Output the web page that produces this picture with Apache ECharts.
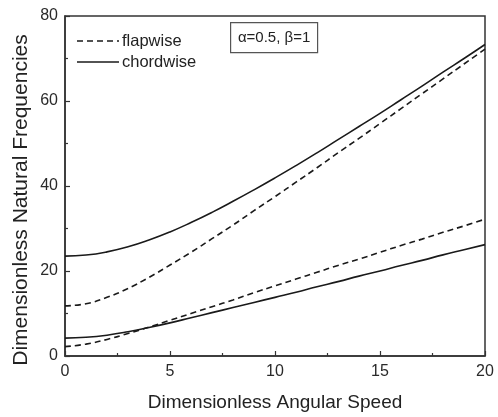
<!DOCTYPE html>
<html>
<head>
<meta charset="utf-8">
<script src="https://cdn.jsdelivr.net/npm/echarts@6/dist/echarts.min.js"></script>
<style>
html,body{margin:0;padding:0;background:#fff;}
#chart{width:498px;height:417px;}
</style>
</head>
<body>
<div id="chart"></div>
<script>
const speed = [0,1,2,3,4,5,6,7,8,9,10,11,12,13,14,15,16,17,18,19,20];
const flapwise1 = [2.2,2.8,3.9,5.3,6.8,8.4,10.0,11.6,13.2,14.9,16.5,18.1,19.7,21.3,22.8,24.4,26.0,27.5,29.1,30.6,32.2];
const flapwise2 = [11.8,12.3,13.8,15.9,18.5,21.4,24.4,27.6,30.8,34.2,37.5,40.9,44.3,47.8,51.2,54.7,58.2,61.7,65.2,68.7,72.2];
const chordwise1 = [4.2,4.4,4.9,5.7,6.7,7.8,9.0,10.2,11.4,12.6,13.8,15.0,16.3,17.5,18.8,20.0,21.3,22.5,23.8,25.0,26.2];
const chordwise2 = [23.5,23.75,24.5,25.7,27.3,29.2,31.4,33.8,36.4,39.1,41.9,44.8,47.8,50.9,54.0,57.1,60.3,63.5,66.8,70.0,73.3];
const xTicks = [0,5,10,15,20];
const yTicks = [0,20,40,60,80];
const legendNames = ['flapwise','chordwise'];
const annotation = 'α=0.5, β=1';
const xName = 'Dimensionless Angular Speed';
const yName = 'Dimensionless Natural Frequencies';

const font = 'Liberation Sans, Arial, sans-serif';
const lineColor = '#1a1a1a';
const dashPattern = [6,4];
const pairs = a => speed.map((x,i)=>[x,a[i]]);
function mk(name, data, dashed){
  return {name:name, type:'line', data:pairs(data), smooth:true, showSymbol:false, symbol:'none',
    lineStyle:{color:lineColor, width:1.6, type: dashed ? dashPattern : 'solid'}, itemStyle:{color:lineColor}};
}
const chart = echarts.init(document.getElementById('chart'));
chart.setOption({
  animation:false,
  textStyle:{fontFamily:font},
  grid:{left:65, right:13, top:16, bottom:60, show:true, borderColor:'#333', borderWidth:1.5},
  xAxis:{type:'value', min:xTicks[0], max:xTicks[xTicks.length-1], interval:5,
    name:xName, nameLocation:'middle', nameGap:37,
    nameTextStyle:{fontFamily:font, fontSize:19, color:'#222'},
    axisLine:{show:true, lineStyle:{color:'#333', width:1.5}},
    axisTick:{show:true, inside:true, length:5, lineStyle:{color:'#333', width:1.2}},
    minorTick:{show:true, splitNumber:2, length:3, lineStyle:{color:'#333', width:1.2}},
    axisLabel:{fontFamily:font, fontSize:16, color:'#2a2a2a', margin:8},
    splitLine:{show:false}},
  yAxis:{type:'value', min:yTicks[0], max:yTicks[yTicks.length-1], interval:20,
    axisLine:{show:true, lineStyle:{color:'#333', width:1.5}},
    axisTick:{show:true, inside:true, length:5, lineStyle:{color:'#333', width:1.2}},
    minorTick:{show:true, splitNumber:2, length:3, lineStyle:{color:'#333', width:1.2}},
    axisLabel:{fontFamily:font, fontSize:16, color:'#2a2a2a', margin:7},
    splitLine:{show:false}},
  graphic:[
    {type:'text', x:21, y:200, rotation:Math.PI/2,
      style:{text:yName, fontFamily:font, fontSize:21, fill:'#222', align:'center', verticalAlign:'middle'}},
    {type:'group', left:230, top:22, children:[
      {type:'rect', shape:{x:0,y:0,width:87,height:30}, style:{fill:'#fff', stroke:'#555', lineWidth:1.2}},
      {type:'text', x:43.5, y:15, style:{text:annotation, fontFamily:font, fontSize:15, fill:'#222', align:'center', verticalAlign:'middle'}}
    ]},
    {type:'line', shape:{x1:77,y1:41,x2:119,y2:41}, style:{stroke:lineColor, lineWidth:1.6, lineDash:dashPattern}},
    {type:'text', x:122, y:41, style:{text:legendNames[0], fontFamily:font, fontSize:16.5, fill:'#222', verticalAlign:'middle'}},
    {type:'line', shape:{x1:77,y1:62,x2:119,y2:62}, style:{stroke:lineColor, lineWidth:1.6}},
    {type:'text', x:122, y:62, style:{text:legendNames[1], fontFamily:font, fontSize:16.5, fill:'#222', verticalAlign:'middle'}}
  ],
  series:[mk(legendNames[0],flapwise1,true), mk(legendNames[0],flapwise2,true), mk(legendNames[1],chordwise1,false), mk(legendNames[1],chordwise2,false)]
});
</script>
</body>
</html>
